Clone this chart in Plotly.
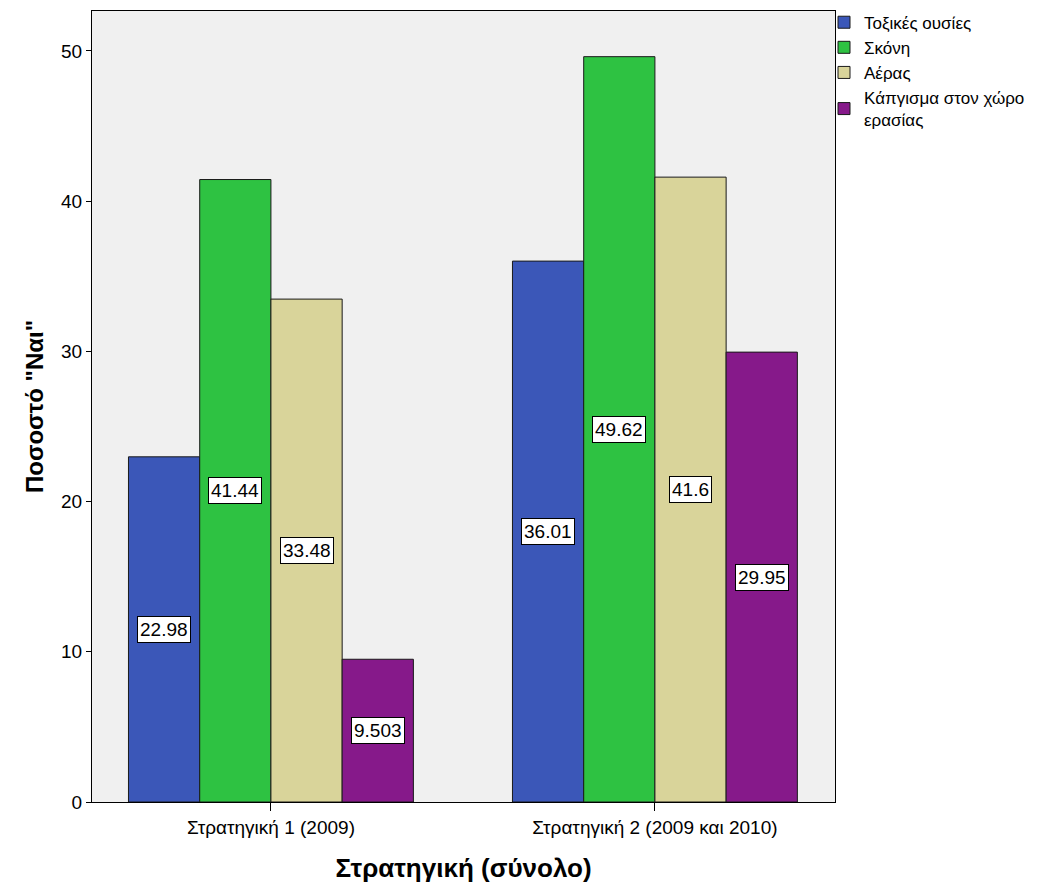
import plotly.graph_objects as go

categories = ["Στρατηγική 1 (2009)", "Στρατηγική 2 (2009 και 2010)"]
series_names = ["Τοξικές ουσίες", "Σκόνη", "Αέρας", "Κάπγισμα στον χώρο<br>ερασίας"]
toxic = [22.98, 36.01]
dust = [41.44, 49.62]
air = [33.48, 41.60]
smoking = [9.503, 29.95]
label_toxic = ["22.98", "36.01"]
label_dust = ["41.44", "49.62"]
label_air = ["33.48", "41.6"]
label_smoking = ["9.503", "29.95"]
y_ticks = [0, 10, 20, 30, 40, 50]

series = [toxic, dust, air, smoking]
labels = [label_toxic, label_dust, label_air, label_smoking]
colors = ["#3b57b8", "#2ec242", "#d9d49a", "#86198a"]

BARGAP = 0.258
FONT = "Liberation Sans, Arial, sans-serif"
xpos = list(range(len(categories)))

fig = go.Figure()
for name, vals, col in zip(series_names, series, colors):
    fig.add_trace(go.Bar(
        x=xpos, y=vals, name=name,
        marker=dict(color=col, line=dict(color="#1a1a1a", width=1)),
    ))

n = len(series)
w = (1 - BARGAP) / n
for j, (vals, labs) in enumerate(zip(series, labels)):
    for i, (v, t) in enumerate(zip(vals, labs)):
        fig.add_annotation(
            x=i + (j - (n - 1) / 2) * w, y=v / 2, xref="x", yref="y",
            text=t, showarrow=False,
            font=dict(family=FONT, size=19, color="black"),
            bgcolor="white", bordercolor="black", borderwidth=1, borderpad=2,
        )

fig.update_layout(
    width=1044, height=877,
    margin=dict(l=84, r=217, t=3, b=83, autoexpand=False),
    paper_bgcolor="white", plot_bgcolor="#f0f0f0",
    barmode="group", bargap=BARGAP, bargroupgap=0,
    font=dict(family=FONT, size=18, color="black"),
    legend=dict(
        x=0.9852, xanchor="left", y=1.008, yanchor="top",
        font=dict(family=FONT, size=17, color="black"),
        bgcolor="rgba(0,0,0,0)", tracegroupgap=0, itemwidth=30,
    ),
    xaxis=dict(
        range=[-0.466, 1.469], tickvals=xpos, ticktext=categories,
        showgrid=False, zeroline=False,
        showline=True, linecolor="black", linewidth=1, mirror=True,
        ticks="outside", ticklen=8, tickcolor="black",
        tickfont=dict(family=FONT, size=19),
        title=dict(text="<b>Στρατηγική (σύνολο)</b>", font=dict(family=FONT, size=26), standoff=22),
    ),
    yaxis=dict(
        range=[0, 52.66], tickvals=y_ticks,
        showgrid=False, zeroline=False,
        showline=True, linecolor="black", linewidth=1, mirror=True,
        ticks="outside", ticklen=5, tickcolor="black",
        tickfont=dict(family=FONT, size=19),
        title=dict(text="<b>Ποσοστό \"Ναι\"</b>", font=dict(family=FONT, size=24), standoff=10),
    ),
)

fig.write_html("out.html")
